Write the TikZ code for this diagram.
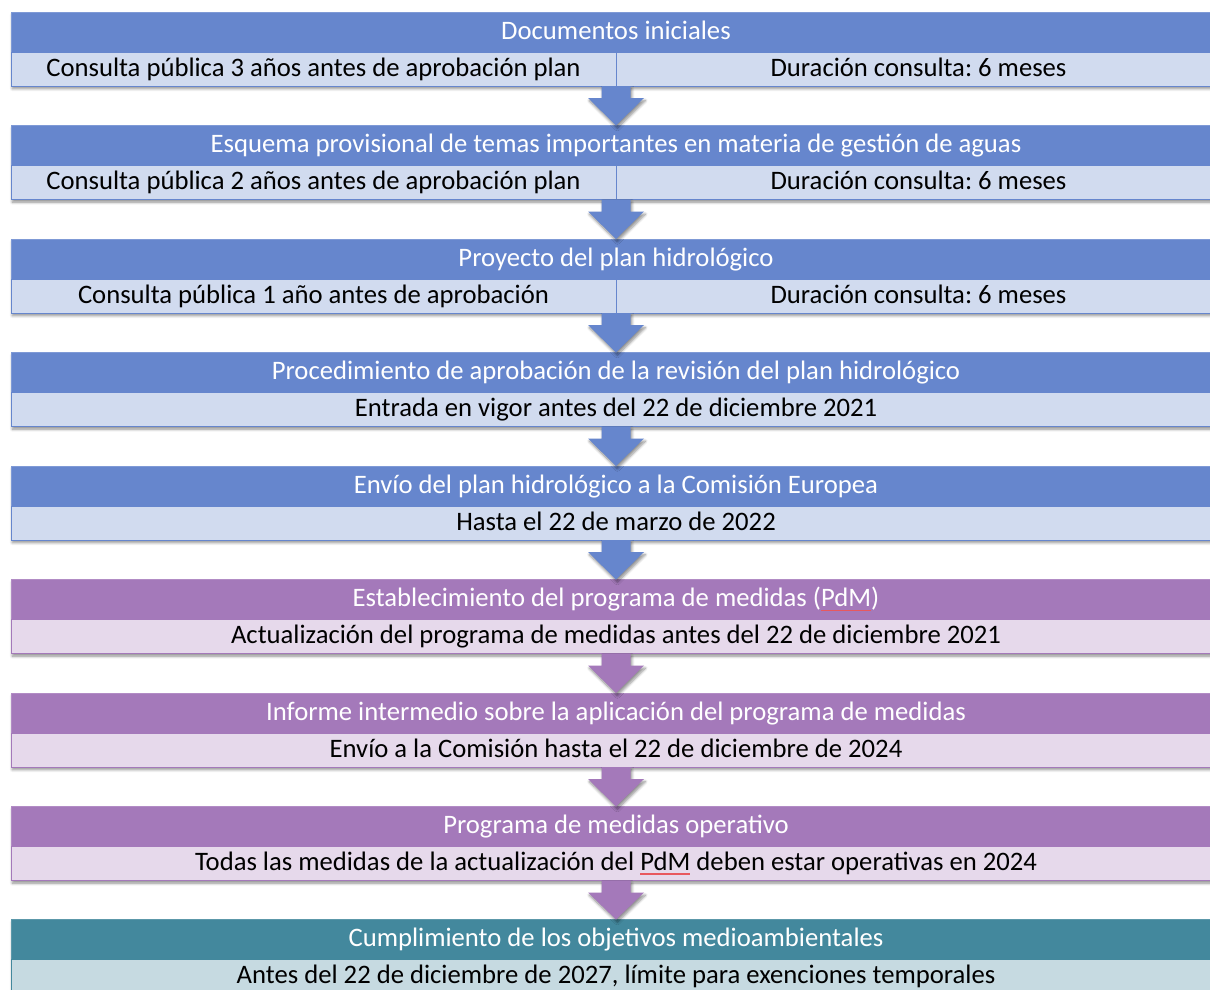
\documentclass[tikz,border=0pt]{standalone}
\usepackage{fontspec}
\setmainfont{Carlito}
\frenchspacing
\usetikzlibrary{calc,shadows.blur}
\definecolor{bH}{HTML}{6686CD}
\definecolor{bS}{HTML}{D1DBEF}
\definecolor{bL}{HTML}{7F9AD6}
\definecolor{pH}{HTML}{A479BA}
\definecolor{pS}{HTML}{E6D9EB}
\definecolor{pL}{HTML}{B28CC5}
\definecolor{tH}{HTML}{43889D}
\definecolor{tS}{HTML}{C6DAE1}
\definecolor{tL}{HTML}{5C98AA}
\definecolor{ulred}{HTML}{E8585E}
\newsavebox\ulbox
\newcommand\redul[1]{\sbox\ulbox{#1}\rlap{\textcolor{ulred}{\rule[-3pt]{\wd\ulbox}{0.8pt}}}\usebox\ulbox}
\tikzset{
  base/.style={inner sep=0pt, outer sep=0pt, line width=0.75pt, font=\fontsize{20}{24}\selectfont},
  hdr/.style={base, fill=#1H, draw=#1L, text=white, minimum width=907.5pt, minimum height=30pt, text height=20.5pt, text depth=9.5pt},
  sub/.style={base, fill=#1S, draw=#1H, text=black, minimum width=907.5pt, minimum height=25.5pt, text height=18pt, text depth=7.5pt},
  half/.style={base, fill=#1S, draw=#1H, text=black, minimum width=453.75pt, minimum height=25.5pt, text height=18pt, text depth=7.5pt},
  shad/.style={blur shadow={shadow xshift=1pt, shadow yshift=-2pt, shadow blur steps=6, shadow blur radius=2pt, shadow opacity=45}},
  arr/.style={fill=#1, shad},
}
\newcommand\blockshadow[1]{\path[shad] (11,#1) rectangle (1221,#1+74);}
\newcommand\arrowfrom[3]{\fill[arr=#3] (#1) ++(-14.5,0) -- ++(0,12) -- ++(-13.5,0) -- (#2) -- ($(#1)+(28,12)$) -- ++(-13.5,0) -- ++(0,-12) -- cycle;}
\begin{document}
\begin{tikzpicture}[x=0.75pt,y=-0.75pt]
\useasboundingbox (0,0) rectangle (1210,989);
\begin{scope}
\clip (0,0) rectangle (1210,989);
% block 1
\blockshadow{12}
\node[hdr=b] (h1) at (616,32) {Documentos iniciales};
\node[half=b] (sl1) at (313.5,69) {Consulta pública 3 años antes de aprobación plan};
\node[half=b] (sr1) at (918.5,69) {Duración consulta: 6 meses};
% block 2
\blockshadow{125.5}
\node[hdr=b] (h2) at (616,145.5) {Esquema provisional de temas importantes en materia de gestión de aguas};
\node[half=b] (sl2) at (313.5,182.5) {Consulta pública 2 años antes de aprobación plan};
\node[half=b] (sr2) at (918.5,182.5) {Duración consulta: 6 meses};
% block 3
\blockshadow{239}
\node[hdr=b] (h3) at (616,259) {Proyecto del plan hidrológico};
\node[half=b] (sl3) at (313.5,296) {Consulta pública 1 año antes de aprobación};
\node[half=b] (sr3) at (918.5,296) {Duración consulta: 6 meses};
% block 4
\blockshadow{352.5}
\node[hdr=b] (h4) at (616,372.5) {Procedimiento de aprobación de la revisión del plan hidrológico};
\node[sub=b] (s4) at (616,409.5) {Entrada en vigor antes del 22 de diciembre 2021};
% block 5
\blockshadow{466}
\node[hdr=b] (h5) at (616,486) {Envío del plan hidrológico a la Comisión Europea};
\node[sub=b] (s5) at (616,523) {Hasta el 22 de marzo de 2022};
% block 6
\blockshadow{579.5}
\node[hdr=p] (h6) at (616,599.5) {Establecimiento del programa de medidas (\redul{PdM})};
\node[sub=p] (s6) at (616,636.5) {Actualización del programa de medidas antes del 22 de diciembre 2021};
% block 7
\blockshadow{693}
\node[hdr=p] (h7) at (616,713) {Informe intermedio sobre la aplicación del programa de medidas};
\node[sub=p] (s7) at (616,750) {Envío a la Comisión hasta el 22 de diciembre de 2024};
% block 8
\blockshadow{806.5}
\node[hdr=p] (h8) at (616,826.5) {Programa de medidas operativo};
\node[sub=p] (s8) at (616,863.5) {Todas las medidas de la actualización del \redul{PdM} deben estar operativas en 2024};
% block 9
\blockshadow{919.5}
\node[hdr=t] (h9) at (616,939.5) {Cumplimiento de los objetivos medioambientales};
\node[sub=t] (s9) at (616,976.5) {Antes del 22 de diciembre de 2027, límite para exenciones temporales};
% arrows
\arrowfrom{sl1.south east}{h2.north}{bH}
\arrowfrom{sl2.south east}{h3.north}{bH}
\arrowfrom{sl3.south east}{h4.north}{bH}
\arrowfrom{s4.south}{h5.north}{bH}
\arrowfrom{s5.south}{h6.north}{bH}
\arrowfrom{s6.south}{h7.north}{pH}
\arrowfrom{s7.south}{h8.north}{pH}
\arrowfrom{s8.south}{h9.north}{pH}
\end{scope}
\end{tikzpicture}
\end{document}
